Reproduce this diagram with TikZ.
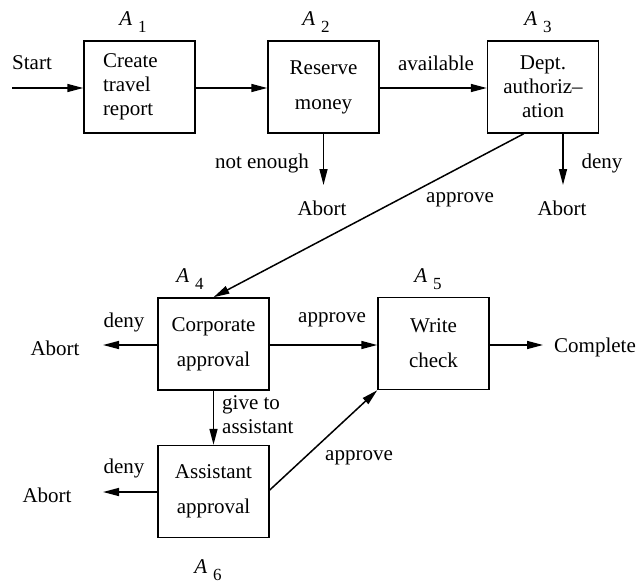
\documentclass[tikz,border=0pt]{standalone}
\usepackage{fontspec}
\setmainfont{Liberation Serif}
\usetikzlibrary{arrows.meta,calc}
\newcommand\actlab[1]{\textit{A}\hspace{6pt}\raisebox{-7pt}{\fontsize{17}{17}\selectfont #1}}
\begin{document}
\begin{tikzpicture}[x=1pt,y=-1pt,
  base/.style={font=\fontsize{21}{24}\selectfont, inner sep=0pt},
  box/.style={base, draw, line width=1.5pt, minimum width=111pt, minimum height=92pt, align=center},
  wide/.style={font=\fontsize{21}{35}\selectfont},
  txt/.style={base},
  arr/.style={line width=1.5pt, -{Triangle[length=16pt,width=8pt]}}
]
\useasboundingbox (0,0) rectangle (640,586);
% boxes
\node[box, align=left, text width=73pt] (A1) at (139.5,87) {Create\\travel\\report};
\node[box, wide] (A2) at (323.5,87) {Reserve\\money};
\node[box] (A3) at (543,87) {Dept.\\authoriz--\\ation};
\node[box, wide] (A4) at (213.5,344) {Corporate\\approval};
\node[box, wide] (A5) at (433.5,343.5) {Write\\check};
\node[box, wide] (A6) at (213.5,491.5) {Assistant\\approval};
% activity labels
\node[txt] (L1) at (133,22) {\actlab{1}};
\node[txt] (L2) at (316,22) {\actlab{2}};
\node[txt] (L3) at (538,22) {\actlab{3}};
\node[txt] (L4) at (190,279) {\actlab{4}};
\node[txt] (L5) at (428,279) {\actlab{5}};
\node[txt] (L6) at (208,570) {\actlab{6}};
% free texts
\node[txt] (start) at (32,63) {Start};
\node[txt] (avail) at (436,63) {available};
\node[txt] (noen) at (262,163) {not enough};
\node[txt] (ab2) at (322,208) {Abort};
\node[txt] (deny3) at (602,163) {deny};
\node[txt] (ab3) at (562,208) {Abort};
\node[txt] (appr3) at (460,200) {approve};
\node[txt] (deny4) at (124,322) {deny};
\node[txt] (ab4) at (55,348) {Abort};
\node[txt] (appr4) at (332,320) {approve};
\node[txt] (comp) at (595,347) {Complete};
\node[txt, align=left, anchor=west] (give) at (222,415) {give to\\assistant};
\node[txt] (deny6) at (124,468) {deny};
\node[txt] (ab6) at (47,495) {Abort};
\node[txt] (appr6) at (359,458) {approve};
% free ends
\coordinate (s0) at (12,88);
\coordinate (e2) at (323.5,185);
\coordinate (e3) at (563,185);
\coordinate (e4) at (103,345);
\coordinate (e5) at (543,345);
\coordinate (e6) at (103,492);
% connectors
\draw[arr] (s0) -- (s0 -| A1.west);
\draw[arr] (A1.east |- s0) -- (A2.west |- s0);
\draw[arr] (A2.east |- s0) -- (A3.west |- s0);
\draw[arr] (A2.south) -- (e2);
\draw[arr] (A3.south -| e3) -- (e3);
\draw[arr] ($(A3.south west)+(37,0)$) -- (A4.north);
\draw[arr] (A4.west |- e4) -- (e4);
\draw[arr] (A4.east |- e4) -- (A5.west |- e4);
\draw[arr] (A5.east |- e5) -- (e5);
\draw[arr] (A4.south) -- (A6.north);
\draw[arr] (A6.west |- e6) -- (e6);
\draw[arr] ($(A6.east)+(0,-1.5)$) -- (A5.south west);
\end{tikzpicture}
\end{document}
